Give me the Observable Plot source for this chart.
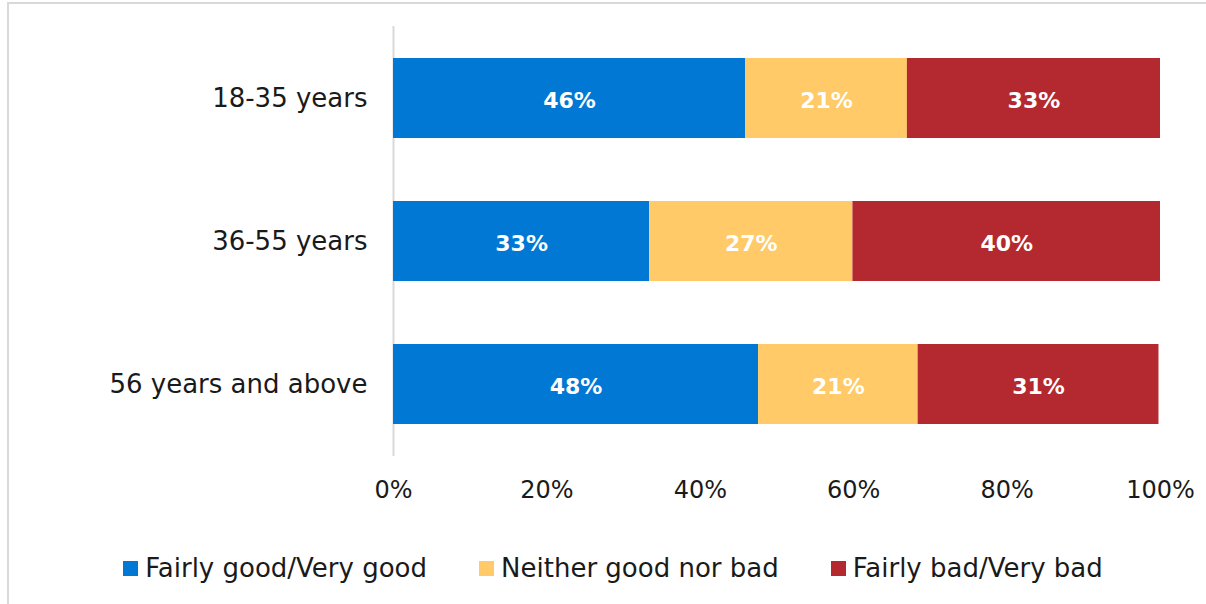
<!DOCTYPE html>
<html>
<head>
<meta charset="utf-8">
<script src="https://cdn.jsdelivr.net/npm/d3@7"></script>
<script src="https://cdn.jsdelivr.net/npm/@observablehq/plot@0.6"></script>
<style>
  html, body { margin: 0; padding: 0; background: #fff; overflow: hidden; width: 1206px; height: 604px; }
  #frame { position: absolute; left: 7px; top: 2px; width: 1300px; height: 700px; border: 2px solid #d9d9d9; box-sizing: border-box; pointer-events: none; }
  #wrap { position: absolute; left: 0; top: 0; width: 1206px; }
  #chart svg { display: block; font-family: "DejaVu Sans", sans-serif; }
  #legend { display: flex; justify-content: center; gap: 52px; margin-left: 20px; font-family: "DejaVu Sans", sans-serif; font-size: 26px; color: #1a1a1a; margin-top: 23px; }
  .item { display: flex; align-items: center; gap: 7px; }
  .sw { width: 15px; height: 15px; display: inline-block; }
</style>
</head>
<body>
<div id="frame"></div>
<div id="wrap">
  <div id="chart"></div>
  <div id="legend"></div>
</div>
<script>
const categories = ["18-35 years", "36-55 years", "56 years and above"];
const series = ["Fairly good/Very good", "Neither good nor bad", "Fairly bad/Very bad"];
const good = [45.9, 33.4, 47.6];
const neither = [21.1, 26.5, 20.8];
const bad = [33.0, 40.1, 31.4];
const colors = ["#0078D4", "#FFCA67", "#B3292F"];
const xTicks = [0, 20, 40, 60, 80, 100];

const seriesValues = [good, neither, bad];
const data = [];
categories.forEach((c, i) => {
  series.forEach((s, j) => data.push({cat: c, series: s, value: seriesValues[j][i]}));
});

const chart = Plot.plot({
  width: 1206,
  height: 530,
  marginLeft: 393,
  marginRight: 46,
  marginTop: 26,
  marginBottom: 74,
  style: {fontSize: "24px", color: "#1a1a1a", background: "transparent"},
  x: {domain: [0, 100], label: null},
  y: {domain: categories, paddingInner: 0.44, paddingOuter: 0.22, label: null},
  color: {domain: series, range: colors},
  marks: [
    Plot.axisX({ticks: xTicks, tickFormat: d => d + "%", tickSize: 0, tickPadding: 24, fontSize: 24, label: null}),
    Plot.axisY({tickSize: 0, tickPadding: 26, fontSize: 26, label: null}),
    Plot.ruleX([0], {stroke: "#d9d9d9", strokeWidth: 2}),
    Plot.barX(data, Plot.stackX({x: "value", y: "cat", fill: "series", order: series})),
    Plot.text(data, Plot.stackX({x: "value", y: "cat", z: "series", order: series,
      text: d => Math.round(d.value) + "%", fill: "white", fontWeight: "bold", fontSize: 22, dy: 2}))
  ]
});
document.getElementById("chart").appendChild(chart);

const legend = document.getElementById("legend");
series.forEach((s, i) => {
  const item = document.createElement("div");
  item.className = "item";
  const sw = document.createElement("span");
  sw.className = "sw";
  sw.style.background = colors[i];
  const t = document.createElement("span");
  t.textContent = s;
  item.appendChild(sw);
  item.appendChild(t);
  legend.appendChild(item);
});
</script>
</body>
</html>
